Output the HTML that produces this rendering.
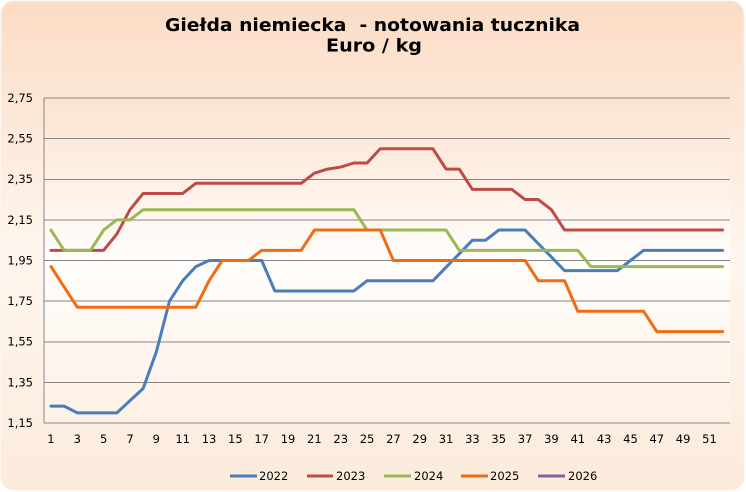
<!DOCTYPE html>
<html>
<head>
<meta charset="utf-8">
<style>
  html, body { margin: 0; padding: 0; background: #ffffff; }
  svg { display: block; }
  text { font-family: "DejaVu Sans", "Liberation Sans", sans-serif; }
</style>
</head>
<body>
<svg width="746" height="492" viewBox="0 0 746 492" xmlns="http://www.w3.org/2000/svg">
  <defs>
    <linearGradient id="bg" x1="0" y1="0" x2="0" y2="1">
      <stop offset="0" stop-color="#fbdcc5"/>
      <stop offset="0.52" stop-color="#fef6ee"/>
      <stop offset="1" stop-color="#fcebdb"/>
    </linearGradient>
    <linearGradient id="pa" gradientUnits="userSpaceOnUse" x1="0" y1="98" x2="0" y2="423">
      <stop offset="0" stop-color="#fce3d0"/>
      <stop offset="0.5" stop-color="#fffdfb"/>
      <stop offset="1" stop-color="#fdf1e5"/>
    </linearGradient>
  </defs>

  <!-- chart area -->
  <rect x="1" y="1" width="743" height="489" rx="13" ry="13" fill="url(#bg)" stroke="#fdeee3" stroke-width="1"/>
  <!-- plot area -->
  <rect x="44" y="98" width="686" height="325" fill="url(#pa)"/>

  <!-- title -->
  <text x="165" y="31" font-size="17.5" font-weight="bold" fill="#000" textLength="415" lengthAdjust="spacingAndGlyphs" style="white-space:pre">Giełda niemiecka  - notowania tucznika</text>
  <text x="326" y="51.5" font-size="17.5" font-weight="bold" fill="#000" textLength="96" lengthAdjust="spacingAndGlyphs" style="white-space:pre">Euro / kg</text>

  <!-- gridlines -->
  <g stroke="#868686" stroke-width="1" shape-rendering="crispEdges">
    <line x1="44" y1="98" x2="730" y2="98"/>
    <line x1="44" y1="138.6" x2="730" y2="138.6"/>
    <line x1="44" y1="179.25" x2="730" y2="179.25"/>
    <line x1="44" y1="219.9" x2="730" y2="219.9"/>
    <line x1="44" y1="260.5" x2="730" y2="260.5"/>
    <line x1="44" y1="301.1" x2="730" y2="301.1"/>
    <line x1="44" y1="341.75" x2="730" y2="341.75"/>
    <line x1="44" y1="382.4" x2="730" y2="382.4"/>
    <line x1="44" y1="423" x2="730" y2="423"/>
    <line x1="44" y1="98" x2="44" y2="423"/>
  </g>

  <!-- y labels -->
  <g font-size="11.5" fill="#000" text-anchor="end">
    <text x="33" y="102">2,75</text>
    <text x="33" y="142.6">2,55</text>
    <text x="33" y="183.2">2,35</text>
    <text x="33" y="223.9">2,15</text>
    <text x="33" y="264.5">1,95</text>
    <text x="33" y="305.1">1,75</text>
    <text x="33" y="345.7">1,55</text>
    <text x="33" y="386.4">1,35</text>
    <text x="33" y="427">1,15</text>
  </g>

  <!-- x labels -->
  <g font-size="11.5" fill="#000" text-anchor="middle">
    <text x="50.97" y="443">1</text>
    <text x="77.31" y="443">3</text>
    <text x="103.65" y="443">5</text>
    <text x="129.99" y="443">7</text>
    <text x="156.33" y="443">9</text>
    <text x="182.67" y="443">11</text>
    <text x="209.01" y="443">13</text>
    <text x="235.35" y="443">15</text>
    <text x="261.69" y="443">17</text>
    <text x="288.03" y="443">19</text>
    <text x="314.37" y="443">21</text>
    <text x="340.71" y="443">23</text>
    <text x="367.05" y="443">25</text>
    <text x="393.39" y="443">27</text>
    <text x="419.73" y="443">29</text>
    <text x="446.07" y="443">31</text>
    <text x="472.41" y="443">33</text>
    <text x="498.75" y="443">35</text>
    <text x="525.09" y="443">37</text>
    <text x="551.43" y="443">39</text>
    <text x="577.77" y="443">41</text>
    <text x="604.11" y="443">43</text>
    <text x="630.45" y="443">45</text>
    <text x="656.79" y="443">47</text>
    <text x="683.13" y="443">49</text>
    <text x="709.47" y="443">51</text>
  </g>

  <!-- series -->
  <g fill="none" stroke-width="3" stroke-linejoin="round" stroke-linecap="round">
    <!-- 2022 -->
    <polyline stroke="#4a7ebb" points="50.97,406.14 64.14,406.14 77.31,412.84 116.82,412.84 129.99,400.66 143.16,388.47 156.33,351.91 169.5,301.12 182.67,280.81 195.84,266.59 209.01,260.5 261.69,260.5 274.86,290.97 353.88,290.97 367.05,280.81 432.9,280.81 446.07,267.2 459.24,253.8 472.41,240.19 485.58,240.19 498.75,230.03 525.09,230.03 538.26,243.64 551.43,257.05 564.6,270.66 617.28,270.66 630.45,260.5 643.62,250.34 722.64,250.34"/>
    <!-- 2023 -->
    <polyline stroke="#be4b48" points="50.97,250.34 103.65,250.34 116.82,234.09 129.99,209.72 143.16,193.47 182.67,193.47 195.84,183.31 301.2,183.31 314.37,173.16 327.54,169.09 340.71,167.06 353.88,163 367.05,163 380.22,148.78 432.9,148.78 446.07,169.09 459.24,169.09 472.41,189.41 511.92,189.41 525.09,199.56 538.26,199.56 551.43,209.72 564.6,230.03 722.64,230.03"/>
    <!-- 2024 -->
    <polyline stroke="#98b954" points="50.97,230.03 64.14,250.34 90.48,250.34 103.65,230.03 116.82,219.87 129.99,219.87 143.16,209.72 353.88,209.72 367.05,230.03 446.07,230.03 459.24,250.34 577.77,250.34 590.94,266.59 722.64,266.59"/>
    <!-- 2025 -->
    <polyline stroke="#f06c14" points="50.97,266.59 64.14,286.91 77.31,307.22 195.84,307.22 209.01,280.81 222.18,260.5 248.52,260.5 261.69,250.34 301.2,250.34 314.37,230.03 380.22,230.03 393.39,260.5 525.09,260.5 538.26,280.81 564.6,280.81 577.77,311.28 643.62,311.28 656.79,331.59 722.64,331.59"/>
  </g>

  <!-- legend -->
  <g stroke-width="3">
    <line x1="230" y1="476" x2="257" y2="476" stroke="#4a7ebb"/>
    <line x1="307" y1="476" x2="333" y2="476" stroke="#be4b48"/>
    <line x1="384" y1="476" x2="411" y2="476" stroke="#98b954"/>
    <line x1="461" y1="476" x2="488" y2="476" stroke="#f06c14"/>
    <line x1="538" y1="476" x2="565" y2="476" stroke="#7e63a1"/>
  </g>
  <g font-size="11.5" fill="#000">
    <text x="259" y="480">2022</text>
    <text x="336" y="480">2023</text>
    <text x="414" y="480">2024</text>
    <text x="490" y="480">2025</text>
    <text x="568" y="480">2026</text>
  </g>
</svg>
</body>
</html>
